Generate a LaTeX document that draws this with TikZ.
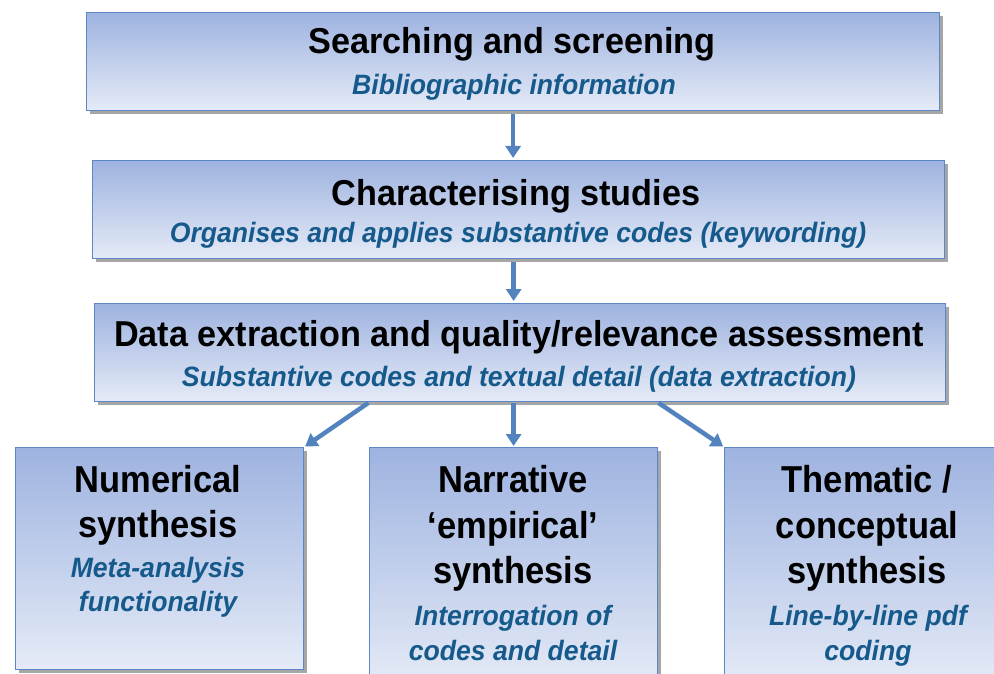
\documentclass[tikz,border=0pt]{standalone}
\usepackage{fontspec}
\setmainfont{Liberation Sans}
\newfontfamily\ttlfont[FakeStretch=0.95]{Liberation Sans}
\newfontfamily\btmfont[FakeStretch=0.92]{Liberation Sans}
\usetikzlibrary{arrows.meta,shadows,calc}
\definecolor{boxtop}{RGB}{158,179,224}
\definecolor{boxbot}{RGB}{229,235,247}
\definecolor{boxedge}{RGB}{92,135,196}
\definecolor{subc}{RGB}{22,90,140}
\definecolor{arrc}{RGB}{82,131,190}
\begin{document}
\begin{tikzpicture}[x=1pt,y=-1pt,
  box/.style={rectangle, draw=boxedge, line width=1.3pt, top color=boxtop, bottom color=boxbot,
    inner sep=0pt, anchor=north west,
    drop shadow={shadow xshift=3pt, shadow yshift=-3pt, fill=black, opacity=0.35}},
  ttl/.style={anchor=base, inner sep=0pt, font=\ttlfont\bfseries\fontsize{36}{40}\selectfont},
  btl/.style={anchor=base, inner sep=0pt, font=\btmfont\bfseries\fontsize{37.5}{40}\selectfont},
  sub/.style={anchor=base, inner sep=0pt, text=subc, font=\ttlfont\bfseries\itshape\fontsize{28}{30}\selectfont},
  arr/.style={draw=arrc, line width=4.5pt, -{Triangle[length=12pt,width=15pt]}}]
\useasboundingbox (0,0) rectangle (994,674);
\fill[white] (0,0) rectangle (994,674);
\clip (0,0) rectangle (994,674);

% boxes
\node[box, minimum width=853pt, minimum height=98pt] (b1) at (86,12) {};
\node[box, minimum width=852pt, minimum height=98pt] (b2) at (92,160) {};
\node[box, minimum width=851pt, minimum height=98pt] (b3) at (94,303) {};
\node[box, minimum width=288pt, minimum height=222pt] (b4) at (15,447) {};
\node[box, minimum width=288pt, minimum height=240pt] (b5) at (369,447) {};
\node[box, minimum width=290pt, minimum height=240pt] (b6) at (724,447) {};

% texts
\node[ttl] (t1) at (512,54) {Searching and screening};
\node[sub] (s1) at (514,95) {Bibliographic information};
\node[ttl] (t2) at (516,205) {Characterising studies};
\node[sub] (s2) at (518,243) {Organises and applies substantive codes (keywording)};
\node[ttl] (t3) at (519,346) {Data extraction and quality/relevance assessment};
\node[sub] (s3) at (519,386) {Substantive codes and textual detail (data extraction)};

\node[btl] (t4a) at (158,492) {Numerical};
\node[btl] (t4b) at (158,537) {synthesis};
\node[sub] (s4a) at (158,577) {Meta-analysis};
\node[sub] (s4b) at (158,611) {functionality};

\node[btl] (t5a) at (513,492) {Narrative};
\node[btl] (t5b) at (513,538) {‘empirical’};
\node[btl] (t5c) at (513,583) {synthesis};
\node[sub] (s5a) at (513,625) {Interrogation of};
\node[sub] (s5b) at (513,660) {codes and detail};

\node[btl] (t6a) at (867,492) {Thematic /};
\node[btl] (t6b) at (867,538) {conceptual};
\node[btl] (t6c) at (867,583) {synthesis};
\node[sub] (s6a) at (868,625) {Line-by-line pdf};
\node[sub] (s6b) at (868,660) {coding};

% arrows
\draw[arr, shorten <=3pt, shorten >=2pt] (b1.south) -- (b1.south |- b2.north);
\draw[arr, shorten <=3pt, shorten >=2pt] ($(b2.south)+(-5,0)$) -- ($(b2.south |- b3.north)+(-5,0)$);
\draw[arr, shorten <=1pt, shorten >=1pt] ($(b3.south)+(-151,0)$) -- (b4.north east);
\draw[arr, shorten <=1pt, shorten >=1pt] ($(b3.south)+(-6.5,0)$) -- (b5.north);
\draw[arr, shorten <=1pt, shorten >=1pt] ($(b3.south)+(137.5,0)$) -- (b6.north west);
\end{tikzpicture}
\end{document}
